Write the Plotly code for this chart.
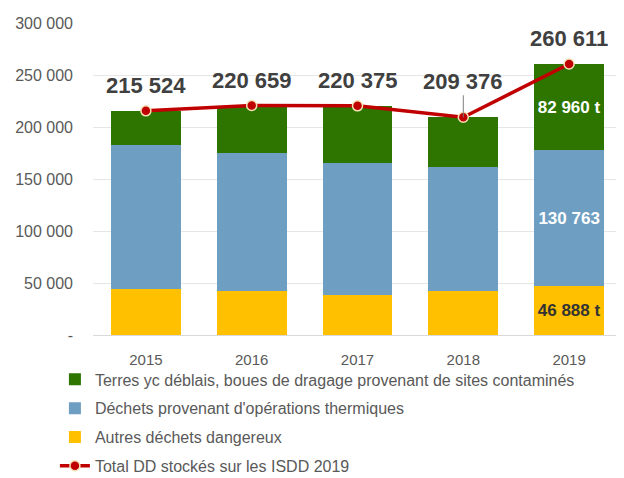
import plotly.graph_objects as go

annees = ["2015", "2016", "2017", "2018", "2019"]
autres = [44000, 42500, 38000, 42500, 46888]
thermiques = [139000, 132500, 127000, 119500, 130763]
total = [215524, 220659, 220375, 209376, 260611]
terres = [t - a - b for t, a, b in zip(total, autres, thermiques)]

ticks_y = [0, 50000, 100000, 150000, 200000, 250000, 300000]
ticks_y_txt = ["-", "50 000", "100 000", "150 000", "200 000", "250 000", "300 000"]


def fmt(v, suffixe=""):
    return f"{v:,}".replace(",", " ") + suffixe


# seules les valeurs 2019 sont affichées dans les barres
txt_autres = [""] * 4 + [fmt(autres[-1], " t")]
txt_therm = [""] * 4 + [fmt(thermiques[-1])]
txt_terres = [""] * 4 + [fmt(terres[-1], " t")]

police = "Liberation Sans, Arial, sans-serif"

fig = go.Figure()
fig.add_bar(x=annees, y=autres, name="Autres déchets dangereux",
            marker_color="#FFC000", text=txt_autres, legendrank=3, legendgroup="c",
            textfont=dict(color="#333333", size=17, family=police, weight="bold"))
fig.add_bar(x=annees, y=thermiques, name="Déchets provenant d'opérations thermiques",
            marker_color="#6E9EC2", text=txt_therm, legendrank=2, legendgroup="b",
            textfont=dict(color="white", size=17, family=police, weight="bold"))
fig.add_bar(x=annees, y=terres,
            name="Terres yc déblais, boues de dragage provenant de sites contaminés",
            marker_color="#2E7500", text=txt_terres, legendrank=1, legendgroup="a",
            textfont=dict(color="white", size=17, family=police, weight="bold"))
fig.update_traces(textposition="inside", insidetextanchor="middle",
                  marker_line_width=0, selector=dict(type="bar"))

fig.add_scatter(x=annees, y=total, mode="lines+markers",
                name="Total DD stockés sur les ISDD 2019", legendrank=4, legendgroup="d",
                line=dict(color="#C00000", width=3.5),
                marker=dict(size=10, color="#C00000", line=dict(color="#F5E3B8", width=1.5)))

# étiquettes des totaux (x = index de catégorie)
for i, (a, t) in enumerate(zip(annees, total)):
    if a == "2018":
        fig.add_annotation(x=i, y=t, text=fmt(t), showarrow=True, arrowhead=0,
                           arrowwidth=1, arrowcolor="#7f7f7f", ax=0, ay=-36,
                           font=dict(size=22, color="#404040", family=police, weight="bold"))
    else:
        fig.add_annotation(x=i, y=t, text=fmt(t), showarrow=False, yshift=25,
                           font=dict(size=22, color="#404040", family=police, weight="bold"))

# la page ajoute 8 px de marge : marges décalées d'autant
fig.update_layout(
    barmode="stack",
    bargap=0.34,
    width=624, height=478,
    margin=dict(l=85, r=10, t=15, b=151, autoexpand=False),
    plot_bgcolor="white", paper_bgcolor="white",
    font=dict(family=police, color="#595959", size=15),
    showlegend=True,
    legend=dict(
        orientation="v", x=-0.072, xanchor="left", y=-0.088, yanchor="top",
        traceorder="grouped", tracegroupgap=5,
        font=dict(size=16, color="#595959"),
        bgcolor="rgba(0,0,0,0)",
    ),
    xaxis=dict(type="category", showgrid=False, ticks="", showline=True,
               linecolor="#D9D9D9", ticklabelstandoff=11,
               tickfont=dict(size=15, color="#595959")),
    yaxis=dict(range=[0, 300000], tickvals=ticks_y, ticktext=ticks_y_txt,
               showgrid=True, gridcolor="#E6E6E6", zeroline=False,
               ticklabelstandoff=19,
               tickfont=dict(size=16, color="#595959")),
)

fig.write_html("out.html")
